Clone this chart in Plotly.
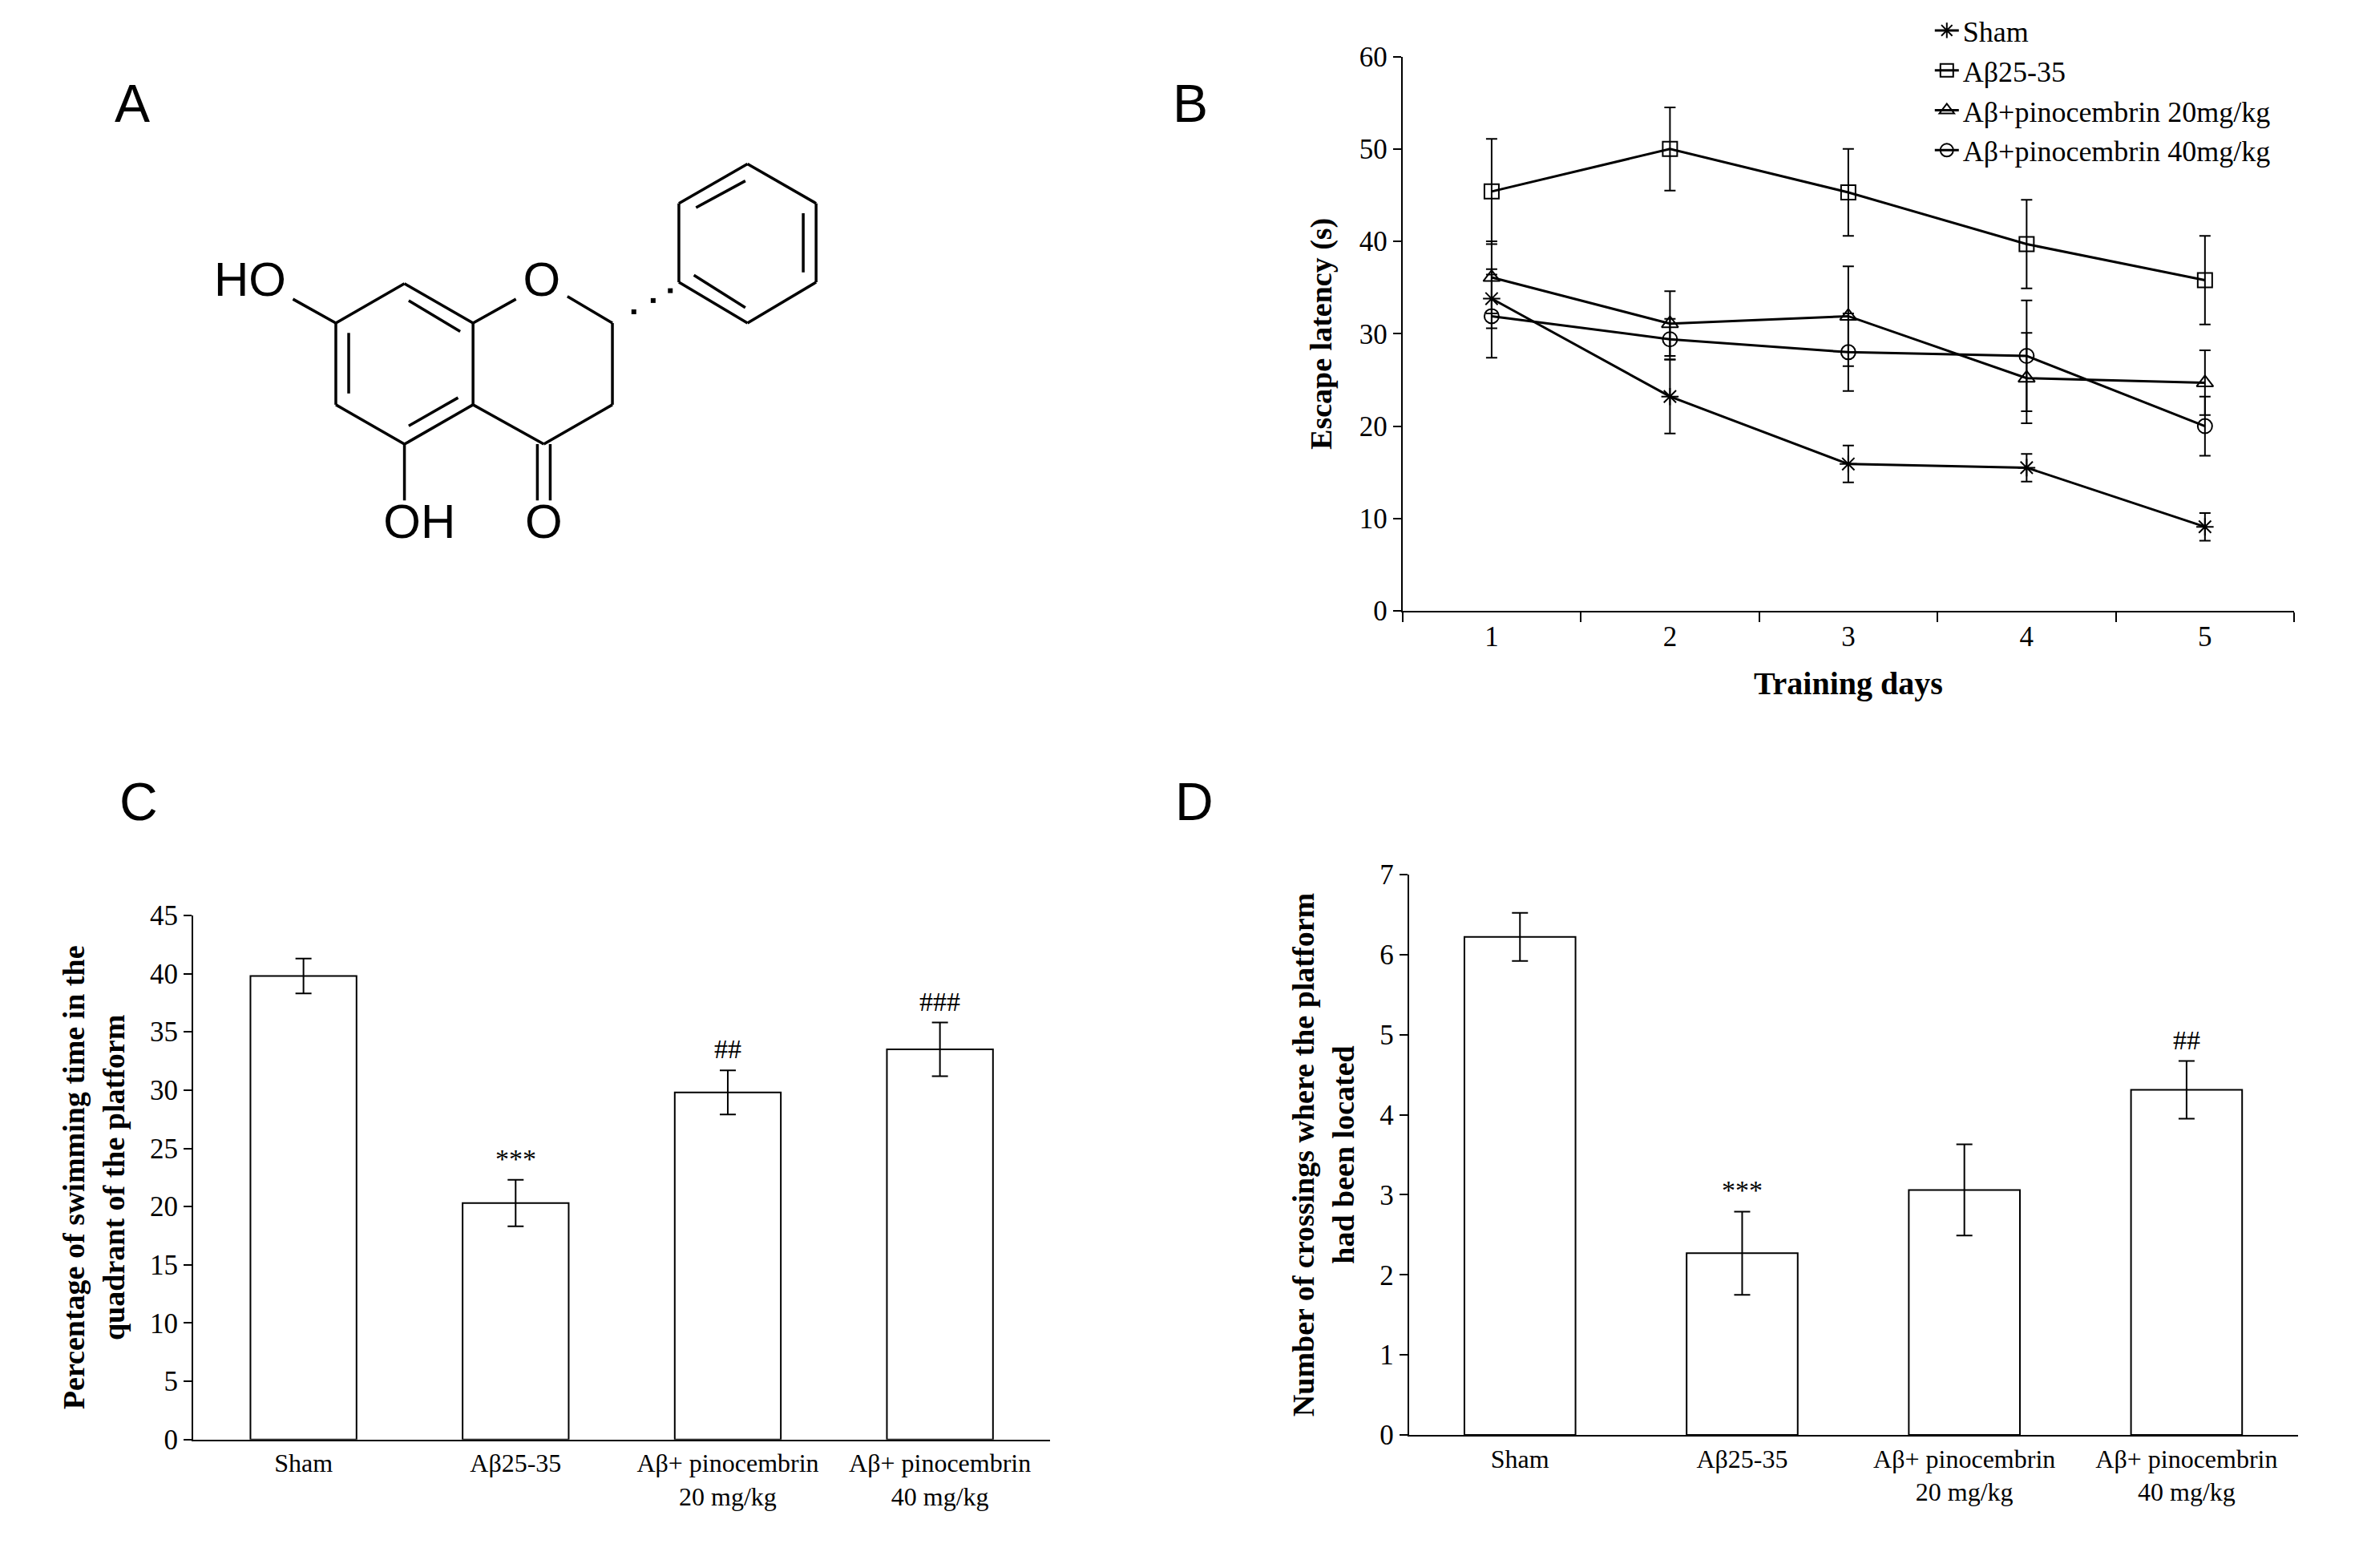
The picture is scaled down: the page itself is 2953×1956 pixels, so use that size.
import plotly.graph_objects as go

# ---------------- data ----------------
days = [1, 2, 3, 4, 5]
sham = [33.8, 23.2, 15.9, 15.5, 9.1]
sham_err = [3.2, 4.0, 2.0, 1.5, 1.5]
abeta = [45.4, 50.0, 45.3, 39.7, 35.8]
abeta_err = [5.7, 4.5, 4.7, 4.8, 4.8]
pino20 = [36.1, 31.1, 31.9, 25.2, 24.7]
pino20_err = [3.9, 3.5, 5.4, 4.9, 3.5]
pino40 = [31.9, 29.4, 28.0, 27.6, 20.0]
pino40_err = [4.5, 2.2, 4.2, 6.0, 3.2]
series_names = ["Sham", "Aβ25-35", "Aβ+pinocembrin 20mg/kg", "Aβ+pinocembrin 40mg/kg"]
series_symbols = ["asterisk-open", "square-open", "triangle-up-open", "circle-open"]

groups = ["Sham", "Aβ25-35", "Aβ+ pinocembrin<br>20 mg/kg", "Aβ+ pinocembrin<br>40 mg/kg"]
pct_time = [39.8, 20.3, 29.8, 33.5]
pct_err = [1.5, 2.0, 1.9, 2.3]
pct_sig = ["", "***", "##", "###"]
crossings = [6.22, 2.27, 3.06, 4.31]
cross_err = [0.30, 0.52, 0.57, 0.36]
cross_sig = ["", "***", "", "##"]

# chemical structure (drawing units) for panel A
bonds = [
    [(320, 655), (480, 515)], [(480, 515), (640, 655)], [(640, 655), (640, 945)],
    [(640, 945), (480, 1085)], [(480, 1085), (320, 945)], [(320, 945), (320, 655)],
    [(350, 690), (350, 905)], [(490, 575), (610, 685)], [(490, 1020), (605, 920)],
    [(640, 655), (740, 570)], [(860, 560), (965, 655)], [(965, 655), (965, 945)],
    [(965, 945), (805, 1085)], [(805, 1085), (640, 945)],
    [(790, 1085), (790, 1285)], [(820, 1085), (820, 1285)],
    [(480, 1085), (480, 1285)], [(220, 570), (320, 655)],
    [(1120, 230), (1280, 90)], [(1280, 90), (1440, 230)], [(1440, 230), (1440, 510)],
    [(1440, 510), (1280, 655)], [(1280, 655), (1120, 510)], [(1120, 510), (1120, 230)],
    [(1160, 245), (1275, 150)], [(1410, 265), (1410, 475)], [(1155, 485), (1275, 600)],
]
hash_dots = [(1015, 615), (1060, 575), (1100, 540)]
atom_labels = [("HO", 120, 515), ("O", 800, 515), ("OH", 515, 1375), ("O", 805, 1375)]

BLACK = "black"
SERIF = "Liberation Serif"

fig = go.Figure()

# ---------- panel A ----------
bx, by = [], []
for (p, q) in bonds:
    bx += [p[0], q[0], None]
    by += [p[1], q[1], None]
fig.add_trace(go.Scatter(x=bx, y=by, mode="lines", line=dict(color=BLACK, width=3.5),
                         xaxis="x4", yaxis="y4", showlegend=False, hoverinfo="skip"))
fig.add_trace(go.Scatter(x=[d[0] for d in hash_dots], y=[d[1] for d in hash_dots], mode="markers",
                         marker=dict(color=BLACK, size=6, symbol="square"),
                         xaxis="x4", yaxis="y4", showlegend=False, hoverinfo="skip"))
fig.add_trace(go.Scatter(x=[a[1] for a in atom_labels], y=[a[2] for a in atom_labels], mode="text",
                         text=[a[0] for a in atom_labels],
                         textfont=dict(family="Liberation Sans", size=60, color=BLACK),
                         xaxis="x4", yaxis="y4", showlegend=False, hoverinfo="skip"))

# ---------- panel B ----------
for name, sym, vals, errs in zip(series_names, series_symbols,
                                 [sham, abeta, pino20, pino40],
                                 [sham_err, abeta_err, pino20_err, pino40_err]):
    fig.add_trace(go.Scatter(
        x=days, y=vals, name=name, mode="lines+markers",
        line=dict(color=BLACK, width=3),
        marker=dict(symbol=sym, size=18, color=BLACK, line=dict(color=BLACK, width=2)),
        error_y=dict(type="data", array=errs, color=BLACK, thickness=2, width=7),
        xaxis="x", yaxis="y"))

# ---------- panels C, D ----------
xi = list(range(len(groups)))
fig.add_trace(go.Bar(x=xi, y=pct_time, width=0.5, marker=dict(color="white", line=dict(color=BLACK, width=2)),
                     error_y=dict(type="data", array=pct_err, color=BLACK, thickness=2, width=10),
                     xaxis="x2", yaxis="y2", showlegend=False))
fig.add_trace(go.Bar(x=xi, y=crossings, width=0.5, marker=dict(color="white", line=dict(color=BLACK, width=2)),
                     error_y=dict(type="data", array=cross_err, color=BLACK, thickness=2, width=10),
                     xaxis="x3", yaxis="y3", showlegend=False))

ann = []
for i, (v, e, s) in enumerate(zip(pct_time, pct_err, pct_sig)):
    if s:
        ann.append(dict(x=i, y=v + e, xref="x2", yref="y2", text=s, showarrow=False, yanchor="bottom",
                        yshift=6, font=dict(family=SERIF, size=34, color=BLACK)))
for i, (v, e, s) in enumerate(zip(crossings, cross_err, cross_sig)):
    if s:
        ann.append(dict(x=i, y=v + e, xref="x3", yref="y3", text=s, showarrow=False, yanchor="bottom",
                        yshift=6, font=dict(family=SERIF, size=34, color=BLACK)))
for t, x, y in [("A", 0.045, 0.958), ("B", 0.5, 0.958), ("C", 0.047, 0.4927), ("D", 0.502, 0.4927)]:
    ann.append(dict(x=x, y=y, xref="paper", yref="paper", text=t, showarrow=False,
                    font=dict(family="Liberation Sans", size=66, color=BLACK)))

tickf = dict(family=SERIF, size=35, color=BLACK)
titlef = dict(family=SERIF, size=38, color=BLACK)
axcommon = dict(showline=True, linecolor=BLACK, linewidth=2, showgrid=False, zeroline=False,
                tickfont=tickf, ticks="outside", ticklen=10, tickwidth=2, tickcolor=BLACK)

fig.update_layout(
    width=2953, height=1956, paper_bgcolor="white", plot_bgcolor="white",
    margin=dict(l=0, r=0, t=0, b=0, autoexpand=False),
    font=dict(family=SERIF, color=BLACK),
    annotations=ann,
    legend=dict(x=0.813, y=1.0, xanchor="left", yanchor="top", bgcolor="rgba(0,0,0,0)",
                font=dict(family=SERIF, size=36, color=BLACK), tracegroupgap=0, itemwidth=30),
    xaxis=dict(domain=[0.5898, 0.9665], range=[0.5, 5.5], anchor="y", tickvals=days,
               title=dict(text="<b>Training days</b>", font=dict(family=SERIF, size=40, color=BLACK), standoff=25),
               **{**axcommon, "ticks": ""},
               minor=dict(ticks="outside", tick0=0.5, dtick=1, ticklen=12, tickwidth=2, tickcolor=BLACK)),
    yaxis=dict(domain=[0.6145, 0.968], range=[0, 60], dtick=10, anchor="x",
               title=dict(text="<b>Escape latency (s)</b>", font=titlef, standoff=22), **axcommon),
    xaxis2=dict(domain=[0.0789, 0.441], range=[-0.52, 3.52], anchor="y2", tickvals=xi, ticktext=groups,
                **{**axcommon, "ticks": "", "tickfont": dict(family=SERIF, size=32, color=BLACK)}),
    yaxis2=dict(domain=[0.086, 0.4203], range=[0, 45], dtick=5, anchor="x2",
                title=dict(text="<b>Percentage of swimming time in the<br>quadrant of the platform</b>",
                           font=titlef, standoff=20), **axcommon),
    xaxis3=dict(domain=[0.5925, 0.968], range=[-0.5, 3.5], anchor="y3", tickvals=xi, ticktext=groups,
                **{**axcommon, "ticks": "", "tickfont": dict(family=SERIF, size=32, color=BLACK)}),
    yaxis3=dict(domain=[0.0889, 0.4464], range=[0, 7], dtick=1, anchor="x3",
                title=dict(text="<b>Number of crossings where the platform<br>had been located</b>",
                           font=titlef, standoff=20), **axcommon),
    xaxis4=dict(domain=[0.0812, 0.362], range=[0, 1550], visible=False, anchor="y4"),
    yaxis4=dict(domain=[0.6373, 0.9157], range=[1550, 0], visible=False, anchor="x4"),
)

fig.write_html("out.html")
